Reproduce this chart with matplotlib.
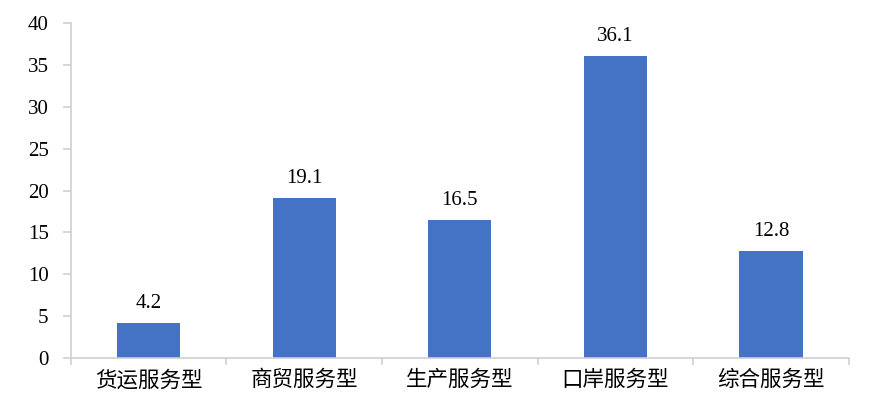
import matplotlib.pyplot as plt
import numpy as np

categories = ['货运服务型', '商贸服务型', '生产服务型', '口岸服务型', '综合服务型']
values = [4.2, 19.1, 16.5, 36.1, 12.8]
y_ticks = [0, 5, 10, 15, 20, 25, 30, 35, 40]

bar_color = '#4472C4'
grid_gray = '#D0D0D0'

fig = plt.figure(figsize=(8.86, 4.13), dpi=100)
ax = fig.add_axes([0.080, 0.133, 0.878, 0.811])

x = np.arange(len(categories))
bars = ax.bar(x, values, width=0.405, color=bar_color, zorder=2)

for xi, v in zip(x, values):
    ax.annotate(f'{v:.1f}', (xi, v), xytext=(0, 7), textcoords='offset points',
                ha='center', va='bottom', fontsize=15, family='Liberation Serif')

ax.set_xlim(-0.5, len(categories) - 0.5)
ax.set_ylim(0, 40)
ax.set_yticks(y_ticks)
ax.set_yticklabels([str(t) for t in y_ticks], family='Liberation Serif', fontsize=15)

ax.set_xticks(x)
ax.set_xticklabels(categories, family=['Noto Sans CJK SC', 'DejaVu Sans'], fontsize=15.5)
ax.tick_params(axis='x', which='major', length=0, pad=8)
ax.set_xticks(np.arange(-0.5, len(categories), 1.0), minor=True)
ax.tick_params(axis='x', which='minor', length=5, color=grid_gray, width=1.2)
ax.tick_params(axis='y', length=6, color=grid_gray, width=1.2, pad=10)

for side in ['top', 'right']:
    ax.spines[side].set_visible(False)
for side in ['left', 'bottom']:
    ax.spines[side].set_color(grid_gray)
    ax.spines[side].set_linewidth(1.2)

fig.savefig('out.png', dpi=100)
